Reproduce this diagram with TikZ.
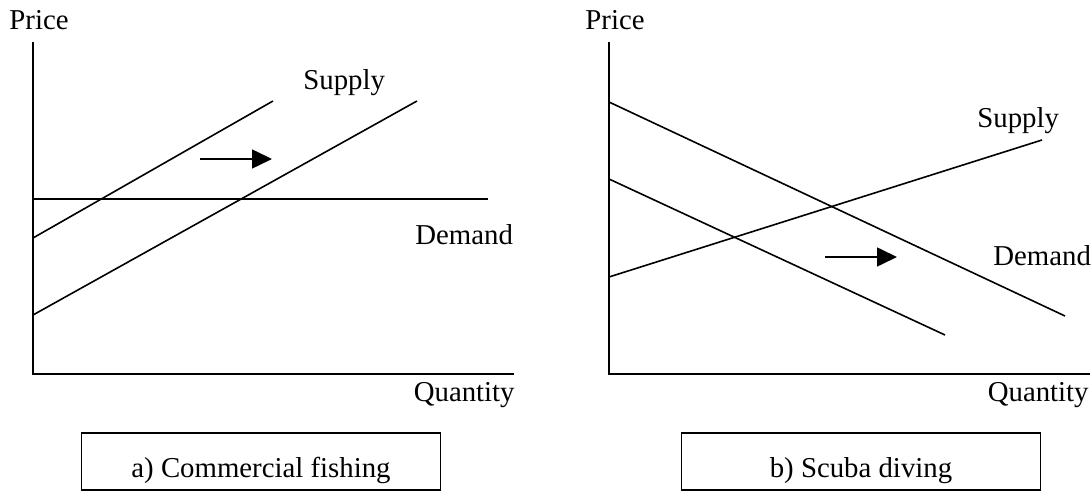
\documentclass[tikz,border=0pt]{standalone}
\usepackage{fontspec}
\setmainfont{Liberation Serif}
\usetikzlibrary{arrows.meta}

\begin{document}
\begin{tikzpicture}[
      x=0.5pt, y=-0.5pt,
      every node/.style={font=\fontsize{14.4}{17}\selectfont, inner sep=0pt},
      axis/.style={line width=0.8pt},
      curve/.style={line width=0.8pt},
      shift_arrow/.style={-{Triangle[length=10pt, width=9.5pt]}, line width=0.8pt},
      caption_box/.style={draw, line width=0.8pt, minimum width=179.5pt, minimum height=28.5pt,
        text height=18pt, text depth=2.5pt}
  ]
      \useasboundingbox (0,0) rectangle (1092,491);

      % Commercial fishing (left)
      \begin{scope}
          \coordinate (aTop) at (33,42);
          \coordinate (aO) at (33,374);
          \coordinate (aEnd) at (514,374);
          \coordinate (aS1a) at (33,238);
          \coordinate (aS1b) at (273,101);
          \coordinate (aS2a) at (33,315);
          \coordinate (aS2b) at (417,101);
          \coordinate (aDa) at (33,199);
          \coordinate (aDb) at (488,199);
          \coordinate (aArrA) at (200,159);
          \coordinate (aArrB) at (272,159);
          \draw[axis] (aTop) -- (aO) -- (aEnd);
          \draw[curve] (aS1a) -- (aS1b);
          \draw[curve] (aS2a) -- (aS2b);
          \draw[curve] (aDa) -- (aDb);
          \draw[shift_arrow] (aArrA) -- (aArrB);
          \node[anchor=base west] (aPrice) at (9,30) {Price};
          \node[anchor=base east] (aQty) at (515,402) {Quantity};
          \node[anchor=base west] (aSupply) at (303,90) {Supply};
          \node[anchor=base west] (aDemand) at (415,245) {Demand};
          \node[caption_box] (aCap) at (261,461.5) {a) Commercial fishing};
      \end{scope}

      % Scuba diving (right)
      \begin{scope}
          \coordinate (bTop) at (609,42);
          \coordinate (bO) at (609,374);
          \coordinate (bEnd) at (1090,374);
          \coordinate (bD1a) at (609,102);
          \coordinate (bD1b) at (1065,316);
          \coordinate (bD2a) at (609,179);
          \coordinate (bD2b) at (945,335);
          \coordinate (bSa) at (609,277);
          \coordinate (bSb) at (1042,140);
          \coordinate (bArrA) at (825,257);
          \coordinate (bArrB) at (897,257);
          \draw[axis] (bTop) -- (bO) -- (bEnd);
          \draw[curve] (bD1a) -- (bD1b);
          \draw[curve] (bD2a) -- (bD2b);
          \draw[curve] (bSa) -- (bSb);
          \draw[shift_arrow] (bArrA) -- (bArrB);
          \node[anchor=base west] (bPrice) at (585,30) {Price};
          \node[anchor=base east] (bQty) at (1089,402) {Quantity};
          \node[anchor=base west] (bSupply) at (977,128) {Supply};
          \node[anchor=base west] (bDemand) at (993,266) {Demand};
          \node[caption_box] (bCap) at (861,461.5) {b) Scuba diving};
      \end{scope}
  \end{tikzpicture}
\end{document}
